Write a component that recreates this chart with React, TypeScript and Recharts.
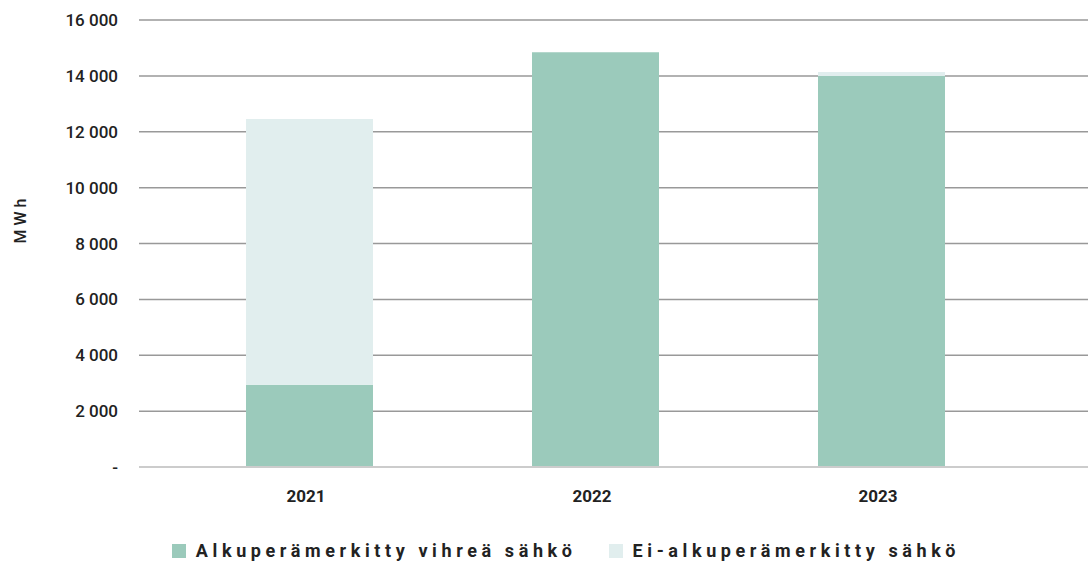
import React from "react";
import { BarChart, Bar, XAxis, YAxis, CartesianGrid, Legend, Label } from "recharts";

const years = ["2021", "2022", "2023"];
const greenValues = [2940, 14850, 14000];
const otherValues = [9520, 0, 140];
const yTicks = [0, 2000, 4000, 6000, 8000, 10000, 12000, 14000, 16000];
const seriesNames = ["Alkuperämerkitty vihreä sähkö", "Ei-alkuperämerkitty sähkö"];
const colors = ["#9BCABB", "#E1EEEE"];

const data = years.map((y, i) => ({ year: y, green: greenValues[i], other: otherValues[i] }));

const fmt = (v: number) => (v === 0 ? "-" : String(v).replace(/\B(?=(\d{3})+(?!\d))/g, " "));

const YTick = (props: any) => {
  const { y, payload } = props;
  return (
    <text x={118} y={y} dy={6} textAnchor="end" fill="#222" fontSize={17} fontWeight={500} fontFamily="Roboto">
      {fmt(payload.value)}
    </text>
  );
};

const XTick = (props: any) => {
  const { x, y, payload } = props;
  return (
    <text x={x - 3} y={y + 27} textAnchor="middle" fill="#222" fontSize={17} fontWeight={700} fontFamily="Roboto">
      {payload.value}
    </text>
  );
};

const LegendContent = () => (
  <div style={{ display: "flex", justifyContent: "center", gap: 32, fontFamily: "Roboto", fontSize: 18, fontWeight: 700, color: "#222", letterSpacing: 4.6, marginLeft: 44, lineHeight: "20px" }}>
    {seriesNames.map((n, i) => (
      <div key={n} style={{ display: "flex", alignItems: "center" }}>
        <span style={{ display: "inline-block", width: 14, height: 14, background: colors[i], marginRight: 10 }} />
        <span>{n}</span>
      </div>
    ))}
  </div>
);

export default function App() {
  return (
    <div style={{ position: "absolute", left: 0, top: 0 }}>
      <BarChart width={1088} height={563} data={data} margin={{ top: 20, right: 0, bottom: 0, left: 0 }} barSize={127}>
        <CartesianGrid vertical={false} stroke="#999" strokeWidth={1.5} />
        <XAxis dataKey="year" tick={<XTick />} axisLine={{ stroke: "#ccc", strokeWidth: 2 }} tickLine={false} padding={{ left: 27, right: 64 }} height={76} />
        <YAxis width={139} domain={[0, 16000]} ticks={yTicks} tick={<YTick />} axisLine={false} tickLine={false}>
          <Label value="M W h" angle={-90} position="insideLeft" offset={20} style={{ fontFamily: "Roboto", fontSize: 16, fontWeight: 500, fill: "#222" }} />
        </YAxis>
        <Legend verticalAlign="bottom" content={<LegendContent />} wrapperStyle={{ bottom: 2 }} />
        <Bar dataKey="green" stackId="a" fill={colors[0]} isAnimationActive={false} />
        <Bar dataKey="other" stackId="a" fill={colors[1]} isAnimationActive={false} />
      </BarChart>
    </div>
  );
}
